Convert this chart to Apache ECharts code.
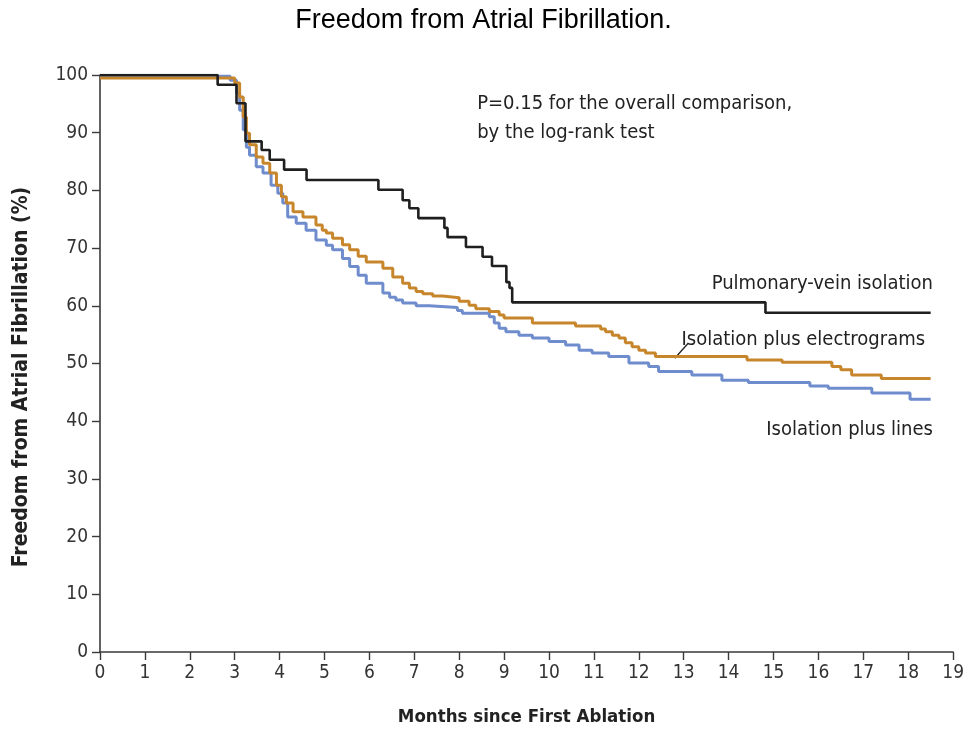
<!DOCTYPE html>
<html>
<head>
<meta charset="utf-8">
<script src="https://cdn.jsdelivr.net/npm/echarts@6/dist/echarts.min.js"></script>
<style>
  html, body { margin: 0; padding: 0; background: #fff; }
  #chart { width: 967px; height: 741px; }
</style>
</head>
<body>
<div id="chart"></div>
<script>
// Kaplan-Meier estimates: [months, % free from AF], each value holds until the next time point
const pulmonaryVein = [
  [0, 100], [2.62, 98.3], [3.04, 95.1], [3.24, 88.5], [3.6, 87.0], [3.78, 85.3],
  [4.1, 83.6], [4.6, 81.8], [6.2, 80.1], [6.74, 78.3], [6.89, 76.9], [7.09, 75.2],
  [7.67, 73.5], [7.74, 71.9], [8.15, 70.2], [8.52, 68.5], [8.73, 66.9], [9.05, 64.1],
  [9.12, 63.1], [9.18, 60.6], [14.82, 58.8], [18.5, 58.8]
];
const plusElectrograms = [
  [0, 99.5], [3.0, 98.6], [3.11, 96.2], [3.19, 92.7], [3.26, 89.9], [3.33, 87.9],
  [3.48, 85.8], [3.63, 84.7], [3.78, 83.0], [3.93, 80.9], [4.04, 78.9], [4.15, 77.8],
  [4.30, 76.3], [4.52, 75.4], [4.81, 74.0], [4.95, 73.1], [5.04, 72.6], [5.18, 71.7],
  [5.4, 70.6], [5.56, 69.7], [5.75, 68.6], [5.93, 67.6], [6.30, 66.5], [6.52, 65.0],
  [6.74, 63.9], [6.89, 63.1], [7.04, 62.5], [7.19, 62.1], [7.41, 61.7], [7.63, 61.4],
  [8.0, 60.8], [8.22, 60.1], [8.37, 59.5], [8.67, 59.0], [8.89, 58.4], [9.0, 57.9],
  [9.63, 57.0], [10.59, 56.5], [11.15, 56.0], [11.26, 55.5], [11.41, 54.9], [11.56, 54.4],
  [11.70, 53.6], [11.85, 52.9], [12.0, 52.3], [12.15, 51.8], [12.37, 51.2], [14.41, 50.6],
  [15.19, 50.2], [16.3, 49.5], [16.5, 48.9], [16.74, 48.0], [17.4, 47.4], [18.5, 47.4]
];
const plusLines = [
  [0, 99.8], [2.9, 99.1], [3.04, 96.9], [3.11, 93.9], [3.19, 90.5], [3.26, 87.5],
  [3.33, 86.1], [3.48, 84.1], [3.63, 83.0], [3.81, 80.9], [3.96, 79.5], [4.07, 77.8],
  [4.18, 75.4], [4.37, 74.3], [4.59, 73.1], [4.81, 71.4], [5.04, 70.5], [5.18, 69.7],
  [5.4, 68.2], [5.56, 66.8], [5.75, 65.3], [5.93, 63.9], [6.30, 62.2], [6.45, 61.5],
  [6.59, 61.0], [6.74, 60.5], [7.04, 60.0], [7.33, 59.7], [7.96, 59.2], [8.07, 58.7],
  [8.67, 58.1], [8.78, 57.0], [8.89, 56.1], [9.04, 55.5], [9.33, 54.9], [9.63, 54.4],
  [10.0, 53.8], [10.37, 53.2], [10.67, 52.3], [10.96, 51.8], [11.33, 51.2], [11.78, 50.1],
  [12.22, 49.5], [12.44, 48.6], [13.18, 48.0], [13.85, 47.1], [14.44, 46.7], [15.81, 46.1],
  [16.22, 45.7], [17.19, 44.9], [18.04, 43.8], [18.5, 43.8]
];

const seriesNames = ['Pulmonary-vein isolation', 'Isolation plus electrograms', 'Isolation plus lines'];
const monthTicks = [0, 19, 1];      // min, max, interval
const percentTicks = [0, 100, 10];  // min, max, interval

const labelFont = '"DejaVu Sans Condensed", "Noto Sans", sans-serif';
const axisColor = '#3a3a3a';

const chart = echarts.init(document.getElementById('chart'), null, { renderer: 'canvas' });

const stepLine = (name, data, color, width, z) => ({
  name, type: 'line', step: 'end', data, showSymbol: false, z,
  lineStyle: { color, width }, animation: false
});

chart.setOption({
  animation: false,
  title: {
    text: 'Freedom from Atrial Fibrillation.',
    left: 'center', top: 2,
    textStyle: { fontFamily: '"Liberation Sans", Arial, sans-serif', fontSize: 27, fontWeight: 'normal', color: '#000' }
  },
  grid: { left: 100, right: 12, top: 75, bottom: 89 },
  xAxis: {
    type: 'value', min: monthTicks[0], max: monthTicks[1], interval: monthTicks[2],
    name: 'Months since First Ablation', nameLocation: 'middle', nameGap: 56,
    nameTextStyle: { fontFamily: labelFont, fontSize: 18.5, fontWeight: 'bold', color: '#222' },
    axisLine: { lineStyle: { color: axisColor, width: 1.6 } },
    axisTick: { length: 8, lineStyle: { color: axisColor, width: 1.4 } },
    axisLabel: { fontFamily: labelFont, fontSize: 19, color: '#333', margin: 12 },
    splitLine: { show: false }
  },
  yAxis: {
    type: 'value', min: percentTicks[0], max: percentTicks[1], interval: percentTicks[2],
    axisLine: { show: true, lineStyle: { color: axisColor, width: 1.6 } },
    axisTick: { show: true, length: 8, lineStyle: { color: axisColor, width: 1.4 } },
    axisLabel: { fontFamily: labelFont, fontSize: 19, color: '#333', margin: 12 },
    splitLine: { show: false }
  },
  series: [
    stepLine(seriesNames[2], plusLines, '#6f8ccc', 3, 3),
    stepLine(seriesNames[1], plusElectrograms, '#c8862c', 3, 4),
    stepLine(seriesNames[0], pulmonaryVein, '#1f1f1f', 2.6, 5)
  ]
});

// Annotations anchored in data coordinates
const px = (pt) => chart.convertToPixel({ gridIndex: 0 }, pt);
const annoStyle = { fontFamily: labelFont, fontSize: 20, fill: '#222' };
const pvPos = px([18.55, 63.8]);
const egPos = px([12.95, 54.1]);
const lnPos = px([18.55, 38.5]);
const leadA = px([12.8, 50.9]);
const leadB = px([13.1, 53.5]);
const pPos = px([8.4, 97.6]);

chart.setOption({
  graphic: [
    // vertical axis title
    { type: 'text', x: 22, y: 377, rotation: Math.PI / 2,
      style: { text: 'Freedom from Atrial Fibrillation (%)', align: 'center', verticalAlign: 'middle',
               fontFamily: labelFont, fontSize: 21, fontWeight: 'bold', fill: '#222' } },
    { type: 'text', x: pvPos[0], y: pvPos[1], style: Object.assign({ text: seriesNames[0], align: 'right', verticalAlign: 'middle' }, annoStyle) },
    { type: 'text', x: egPos[0], y: egPos[1], style: Object.assign({ text: seriesNames[1], align: 'left', verticalAlign: 'middle' }, annoStyle) },
    { type: 'text', x: lnPos[0], y: lnPos[1], style: Object.assign({ text: seriesNames[2], align: 'right', verticalAlign: 'middle' }, annoStyle) },
    { type: 'line', shape: { x1: leadA[0], y1: leadA[1], x2: leadB[0], y2: leadB[1] }, style: { stroke: '#222', lineWidth: 1.3 } },
    { type: 'text', x: pPos[0], y: pPos[1], style: Object.assign({ text: 'P=0.15 for the overall comparison,\nby the log-rank test', align: 'left', verticalAlign: 'top', lineHeight: 29 }, annoStyle) }
  ]
});
</script>
</body>
</html>
